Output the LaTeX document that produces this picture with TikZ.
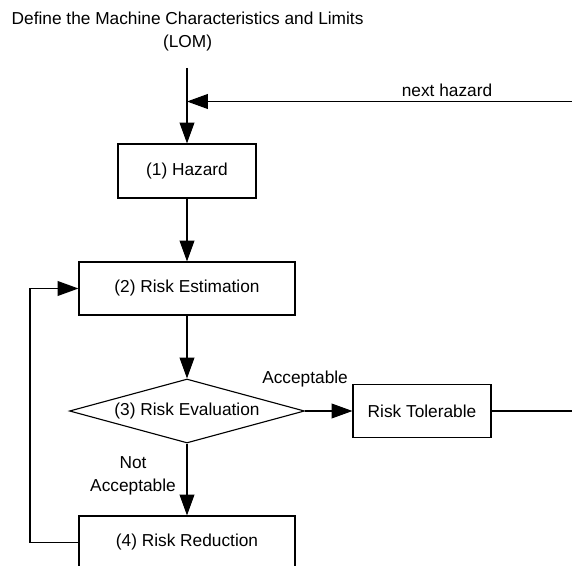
\documentclass[tikz,border=0pt]{standalone}
\usepackage{fontspec}
\setmainfont{Liberation Sans}
\usepackage{tikz}
\usetikzlibrary{shapes.geometric, positioning, arrows.meta, calc}
\tikzset{
  process/.style={rectangle, minimum width=3.45cm, minimum height=1.35cm, text centered, draw=black, line width=0.8pt},
  widebox/.style={process, minimum width=5.4cm, minimum height=1.325cm},
  decision/.style={diamond, aspect=3.67, inner sep=0pt, minimum width=5.875cm, minimum height=1.6cm, text centered, draw=black, line width=0.8pt},
  lbl/.style={align=center, inner sep=0pt},
  arrow/.style={line width=0.8pt, -{Triangle[length=5.2mm, width=3.7mm]}},
  wire/.style={line width=0.8pt}
}

\begin{document}
\begin{tikzpicture}[font=\fontsize{12.3}{16.4}\selectfont]

    % Marco de la imagen
    \useasboundingbox (0,0) rectangle (14.3,-14.125);
    \clip (0,0) rectangle (14.3,-14.125);

    % Texto de entrada
    \node[lbl] (lom) at (4.69, -0.79) {Define the Machine Characteristics and Limits\\(LOM)};
    \coordinate (start) at (4.675, -1.7);
    \coordinate (nextin) at (14.3, -2.5375);

    % Pasos del proceso
    \node[process] (hazard) at (4.675, -4.275) {(1) Hazard};
    \node[widebox] (estim) at (4.675, -7.2125) {(2) Risk Estimation};
    \node[decision] (eval) at (4.675, -10.275) {(3) Risk Evaluation};
    \node[process, minimum height=1.325cm] (toler) at (10.55, -10.275) {Risk Tolerable};
    \node[widebox] (reduce) at (4.675, -13.5625) {(4) Risk Reduction};

    % Bucle de reduccion
    \coordinate (loopx) at (0.75, 0);

    % Conexiones
    \draw[arrow] (start) -- (hazard);
    \draw[arrow] (nextin) -- (nextin -| hazard);
    \draw[arrow] (hazard) -- (estim);
    \draw[arrow] (estim) -- (eval);
    \draw[arrow] (eval) -- (toler);
    \draw[arrow] (eval) -- (reduce);
    \draw[wire] (toler.east) -- (toler.east -| nextin);
    \draw[arrow] (reduce.west) -- (reduce.west -| loopx) |- (estim.west);

    % Etiquetas
    \node[lbl] (nextlbl) at (11.175, -2.25) {next hazard};
    \node[lbl] (acc) at ($(eval.east)+(0,0.8)$) {Acceptable};
    \node[lbl] (notacc) at ($(eval.south)+(-1.35,-0.8)$) {Not\\Acceptable};

\end{tikzpicture}
\end{document}
